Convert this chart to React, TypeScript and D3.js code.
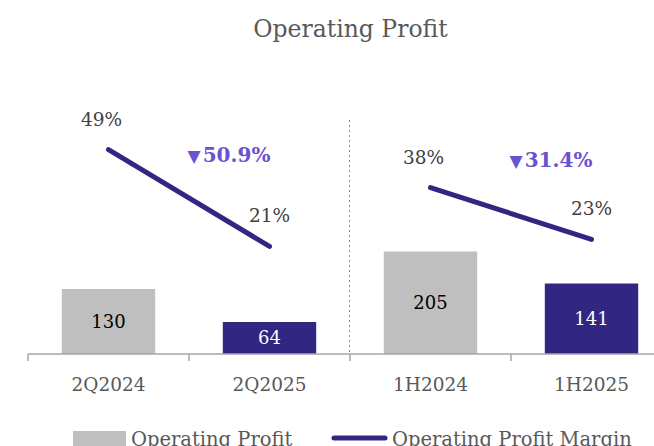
import React from "react";
import * as d3 from "d3";

const categories = ["2Q2024", "2Q2025", "1H2024", "1H2025"];
const profitValues = [130, 64, 205, 141];
const marginValues = [49, 21, 38, 23];
const marginLabels = ["49%", "21%", "38%", "23%"];
const changeLabels = ["50.9%", "31.4%"];
const seriesNames = ["Operating Profit", "Operating Profit Margin"];

const W = 654;
const H = 446;
const FONT = "'DejaVu Serif', serif";
const GRAY = "#BFBFBF";
const PURPLE = "#312783";
const ACCENT = "#6A52D0";
const TEXT = "#595959";

export default function App() {
  const x = d3
    .scaleBand<string>()
    .domain(categories)
    .range([28, 672])
    .paddingInner(0.42)
    .paddingOuter(0.21);
  const yBar = d3.scaleLinear().domain([0, 400]).range([354, 154]);
  const yLine = d3.scaleLinear().domain([0, 60]).range([319, 111.5]);
  const bw = x.bandwidth();
  const cx = (c: string) => (x(c) as number) + bw / 2;

  const line = d3
    .line<number>()
    .x((d, i) => i)
    .y((d) => yLine(d));

  const pairs = [
    [0, 1],
    [2, 3],
  ];
  const step = x.step();
  const axisY = yBar(0);
  const tickXs = [0, 1, 2, 3].map((i) => (x(categories[i]) as number) - step * 0.21);

  const pairLine = (p: number[]) =>
    d3
      .line<number>()
      .x((_, i) => cx(categories[p[i]]))
      .y((d) => yLine(d))([marginValues[p[0]], marginValues[p[1]]]) as string;

  return (
    <svg width={W} height={H} style={{ position: "absolute", left: 0, top: 0 }} fontFamily={FONT}>
      <text x={350.5} y={37} textAnchor="middle" fontSize={23.5} fill={TEXT}>
        Operating Profit
      </text>
      {/* divider */}
      <line x1={tickXs[2] - 0.5} x2={tickXs[2] - 0.5} y1={120} y2={axisY} stroke="#8C8C8C" strokeWidth={1} strokeDasharray="2,3" />
      {/* bars */}
      {categories.map((c, i) => (
        <rect
          key={c}
          x={x(c)}
          y={yBar(profitValues[i])}
          width={bw}
          height={axisY - yBar(profitValues[i])}
          fill={i % 2 === 0 ? GRAY : PURPLE}
        />
      ))}
      {categories.map((c, i) => (
        <text
          key={c + "v"}
          x={cx(c)}
          y={(yBar(profitValues[i]) + axisY) / 2 + 6}
          textAnchor="middle"
          fontSize={18}
          fill={i % 2 === 0 ? "#000000" : "#FFFFFF"}
        >
          {profitValues[i]}
        </text>
      ))}
      {/* axis */}
      <line x1={tickXs[0]} x2={W} y1={axisY} y2={axisY} stroke="#A6A6A6" strokeWidth={1.5} />
      {tickXs.map((t, i) => (
        <line key={i} x1={t} x2={t} y1={axisY} y2={axisY + 7} stroke="#A6A6A6" strokeWidth={1.5} />
      ))}
      {categories.map((c) => (
        <text key={c + "l"} x={cx(c)} y={391} textAnchor="middle" fontSize={18.5} fill={TEXT}>
          {c}
        </text>
      ))}
      {/* lines */}
      {pairs.map((p, k) => (
        <path key={k} d={pairLine(p)} stroke={PURPLE} strokeWidth={5} strokeLinecap="round" fill="none" />
      ))}
      {categories.map((c, i) => (
        <text
          key={c + "m"}
          x={cx(c) + (i % 2 === 0 ? -7 : 0)}
          y={yLine(marginValues[i]) - 24}
          textAnchor="middle"
          fontSize={18.5}
          fill="#404040"
        >
          {marginLabels[i]}
        </text>
      ))}
      {pairs.map((p, k) => {
        const mx = (cx(categories[p[0]]) + cx(categories[p[1]])) / 2 + 40;
        const my = k === 0 ? 162 : 167;
        return (
          <text key={k + "c"} x={mx} y={my} textAnchor="middle" fontSize={20} fontWeight="bold" fill={ACCENT}>
            <tspan fontSize={17}>▼</tspan>
            <tspan dx={2}>{changeLabels[k]}</tspan>
          </text>
        );
      })}
      {/* legend */}
      <rect x={73} y={431} width={53} height={15} fill={GRAY} />
      <text x={131} y={446} fontSize={19.5} fill={TEXT}>
        {seriesNames[0]}
      </text>
      <line x1={334} x2={385} y1={438} y2={438} stroke={PURPLE} strokeWidth={5} strokeLinecap="round" />
      <text x={392} y={446} fontSize={19.5} fill={TEXT}>
        {seriesNames[1]}
      </text>
    </svg>
  );
}
